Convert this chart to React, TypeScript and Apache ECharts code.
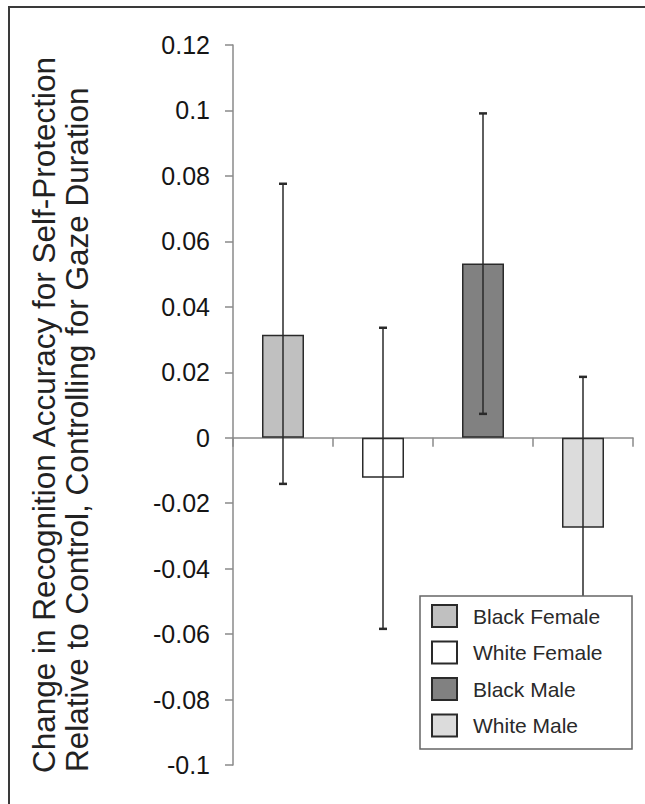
import React, { useEffect, useRef } from "react";
import * as echarts from "echarts";

const categories = ["Black Female", "White Female", "Black Male", "White Male"];
const means = [0.0315, -0.0122, 0.0532, -0.0275];
const errLow = [-0.0141, -0.0584, 0.0073, -0.074];
const errHigh = [0.0776, 0.0336, 0.0991, 0.0186];
const barColors = ["#c0c0c0", "#ffffff", "#818181", "#dcdcdc"];
const yTitleLines = [
  "Change in Recognition Accuracy for Self-Protection",
  "Relative to Control, Controlling for Gaze Duration",
];

const FONT = "'Liberation Sans', Arial, Helvetica, sans-serif";

export default function App() {
  const ref = useRef<HTMLDivElement>(null);
  useEffect(() => {
    if (!ref.current) return;
    const chart = echarts.init(ref.current, undefined, { renderer: "svg" });
    const barSeries = categories.map((name, i) => ({
      name,
      type: "bar",
      barWidth: 42,
      barGap: "-100%",
      z: 2,
      itemStyle: { color: barColors[i], borderColor: "#2a2a2a", borderWidth: 1.5 },
      data: categories.map((_, j) => (j === i ? means[i] : "-")),
    }));
    chart.setOption({
      animation: false,
      backgroundColor: "#ffffff",
      grid: { left: 233, right: 12, top: 45, bottom: 39, containLabel: false },
      xAxis: {
        type: "category",
        data: categories,
        axisLine: { onZero: true, lineStyle: { color: "#8a8a8a", width: 1.5 } },
        axisTick: { show: true, length: 9, alignWithLabel: false, interval: 0, lineStyle: { color: "#8a8a8a", width: 1.5 } },
        axisLabel: { show: false },
        splitLine: { show: false },
      },
      yAxis: {
        type: "value",
        min: -0.1,
        max: 0.12,
        interval: 0.02,
        axisLine: { show: true, lineStyle: { color: "#8a8a8a", width: 1.5 } },
        axisTick: { show: true, length: 8, lineStyle: { color: "#8a8a8a", width: 1.5 } },
        splitLine: { show: false },
        axisLabel: {
          margin: 23,
          fontSize: 25,
          color: "#151515",
          fontFamily: FONT,
          formatter: (v: number) => String(parseFloat(v.toFixed(2))),
        },
      },
      legend: {
        orient: "vertical",
        left: 431,
        top: 604,
        padding: 0,
        itemWidth: 25,
        itemHeight: 22,
        itemGap: 12.5,
        icon: "rect",
        selectedMode: false,
        z: 20,
        textStyle: { fontSize: 21, lineHeight: 22, color: "#2a2a2a", fontFamily: FONT, padding: [0, 0, 0, 11] },
        data: categories,
      },
      graphic: [
        {
          type: "rect",
          z: 10,
          shape: { x: 420, y: 596, width: 212, height: 153 },
          style: { fill: "#ffffff", stroke: "#666666", lineWidth: 1.5 },
        },
        ...yTitleLines.map((t, i) => ({
          type: "text",
          z: 30,
          x: 44 + i * 33,
          y: 773 - i,
          rotation: Math.PI / 2,
          style: {
            text: t,
            fontSize: 31.5,
            fontFamily: FONT,
            fill: "#222222",
            textAlign: "left",
            textVerticalAlign: "middle",
            verticalAlign: "middle",
          },
        })),
      ],
      series: [
        ...barSeries,
        {
          type: "custom",
          name: "err",
          z: 5,
          encode: { x: 0, y: [1, 2] },
          data: categories.map((_, i) => [i, errLow[i], errHigh[i]]),
          renderItem: (params: any, api: any) => {
            const x = api.value(0);
            const hi = api.coord([x, api.value(2)]);
            const lo = api.coord([x, api.value(1)]);
            const w = 4;
            const st = { stroke: "#2a2a2a", lineWidth: 1.5 };
            return {
              type: "group",
              children: [
                { type: "line", shape: { x1: hi[0], y1: hi[1], x2: lo[0], y2: lo[1] }, style: st },
                { type: "line", shape: { x1: hi[0] - w, y1: hi[1], x2: hi[0] + w, y2: hi[1] }, style: { ...st, lineWidth: 2.5 } },
                { type: "line", shape: { x1: lo[0] - w, y1: lo[1], x2: lo[0] + w, y2: lo[1] }, style: { ...st, lineWidth: 2.5 } },
              ],
            };
          },
        },
      ],
    });
    return () => chart.dispose();
  }, []);
  return (
    <>
      <div
        ref={ref}
        style={{ position: "fixed", left: 0, top: 0, width: 645, height: 804, background: "#fff", overflow: "hidden" }}
      />
      <div
        style={{
          position: "fixed",
          left: 8,
          top: 6,
          width: 700,
          height: 900,
          borderLeft: "2px solid #3a3a3a",
          borderTop: "2px solid #3a3a3a",
          pointerEvents: "none",
          zIndex: 2,
        }}
      />
    </>
  );
}
